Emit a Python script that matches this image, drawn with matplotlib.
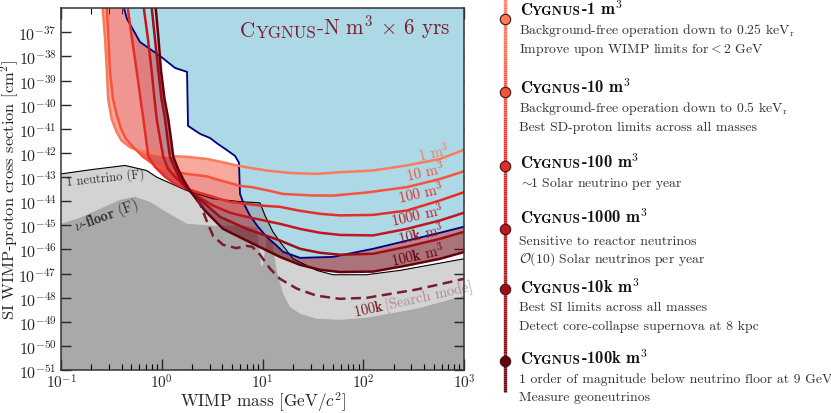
import numpy as np
import matplotlib
matplotlib.use("Agg")
import matplotlib.pyplot as plt
from matplotlib.collections import LineCollection
from matplotlib.patches import Polygon
from matplotlib.ticker import FixedLocator, FuncFormatter, LogLocator, NullLocator, NullFormatter

plt.rcParams['font.family'] = ['cmr10', 'DejaVu Serif']
plt.rcParams['mathtext.fontset'] = 'cm'
plt.rcParams['axes.formatter.use_mathtext'] = True
plt.rcParams['axes.unicode_minus'] = False

# --- data: WIMP mass [GeV], cross section as log10(sigma / cm^2) ---
m_1m3 = [0.258, 0.274, 0.285, 0.294, 0.318, 0.357, 0.400, 0.484, 0.585, 0.857, 1.256, 1.77,
         2.79, 3.87, 5.54, 7.51, 11.0, 18.7, 34.5, 58.8, 125, 270, 578, 1000]
ls_1m3 = [-35.9, -37.28, -38.60, -39.76, -40.59, -41.13, -41.49, -41.76, -41.90, -42.04, -42.135, -42.16,
          -42.25, -42.37, -42.52, -42.62, -42.73, -42.83, -42.87, -42.80, -42.73, -42.52, -42.25, -41.87]

m_10m3 = [0.284, 0.296, 0.306, 0.328, 0.360, 0.394, 0.441, 0.519, 0.652, 0.857, 1.207, 1.77,
          2.79, 3.96, 5.98, 7.87, 10.6, 16.0, 29.6, 50.1, 109, 270, 578, 1000]
ls_10m3 = [-35.9, -37.28, -38.60, -39.76, -40.47, -41.00, -41.42, -41.75, -42.16, -42.52, -42.74, -42.87,
           -42.97, -43.16, -43.365, -43.42, -43.53, -43.70, -43.76, -43.77, -43.64, -43.42, -43.08, -42.76]

m_100m3 = [0.457, 0.507, 0.564, 0.615, 0.656, 0.698, 0.736, 0.857, 1.077, 1.354, 1.782, 2.40,
           3.23, 4.75, 9.44, 14.9, 23.6, 37.2, 58.8, 125, 270, 578, 1000]
ls_100m3 = [-35.9, -37.28, -38.60, -39.76, -40.59, -41.42, -42.16, -42.58, -42.99, -43.28, -43.49, -43.66,
            -43.82, -44.03, -44.18, -44.235, -44.40, -44.525, -44.59, -44.57, -44.39, -43.97, -43.63]

m_1000m3 = [0.659, 0.730, 0.794, 0.847, 0.891, 0.962, 1.036, 1.153, 1.354, 1.782, 2.40, 3.23,
            4.75, 6.97, 14.9, 23.6, 37.2, 58.8, 125, 270, 578, 1000]
ls_1000m3 = [-35.9, -37.28, -38.60, -39.76, -40.59, -41.42, -42.16, -42.66, -42.99, -43.49, -43.86, -44.18,
             -44.48, -44.65, -44.94, -45.15, -45.31, -45.40, -45.42, -45.15, -44.80, -44.48]

m_10k = [0.791, 0.857, 0.925, 0.994, 1.077, 1.140, 1.207, 1.354, 1.518, 1.782, 2.69, 3.79,
         6.97, 14.9, 23.6, 37.2, 58.8, 125, 270, 578, 1000]
ls_10k = [-35.9, -37.28, -38.60, -39.76, -40.59, -41.42, -42.16, -42.66, -43.08, -43.49, -44.11, -44.65,
          -45.15, -45.63, -45.975, -46.14, -46.22, -46.18, -45.89, -45.56, -45.27]

m_100k = [0.867, 0.929, 0.984, 1.065, 1.161, 1.236, 1.302, 1.449, 1.626, 1.907, 2.69, 4.06,
          8.76, 14.9, 23.6, 37.2, 58.8, 125, 270, 578, 1000]
ls_100k = [-35.9, -37.28, -38.60, -39.76, -40.59, -41.42, -42.16, -42.66, -43.08, -43.57, -44.40, -45.15,
           -45.84, -46.31, -46.64, -46.845, -46.94, -46.92, -46.67, -46.39, -46.11]

m_search = [2.24, 2.40, 2.79, 3.23, 4.06, 5.54, 6.86, 7.87, 9.02, 10.1, 11.9, 14.9, 22.0, 34.5, 58.8, 109, 341, 1000]
ls_search = [-43.90, -44.11, -44.815, -45.44, -45.81, -45.95, -45.85, -45.89, -46.10, -46.39, -46.80, -47.22,
             -47.63, -47.92, -48.05, -48.005, -47.66, -47.22]

# current limits
m_limit = [0.417, 0.452, 0.504, 0.608, 0.764, 0.962, 1.354, 1.782, 1.823, 2.40, 3.01, 3.61, 4.25, 5.33,
           5.84, 5.98, 6.40, 7.51, 9.02, 11.0, 13.8, 16.0, 23.6, 50.1, 125, 270, 578, 1000]
ls_limit = [-35.9, -36.447, -36.79, -37.40, -37.69, -37.98, -38.477, -38.64, -40.88, -41.21, -41.38, -41.63,
            -41.83, -42.12, -42.41, -43.70, -44.03, -44.60, -45.06, -45.48, -45.84, -46.10, -46.35, -46.31,
            -45.975, -45.64, -45.31, -45.06]

# 1 neutrino (F) and neutrino floor (F)
m_nu1 = [0.1, 0.194, 0.432, 0.709, 0.891, 1.77, 3.23, 5.98, 9.44, 10.6, 12.7, 14.9, 20.1, 34.5, 50.1, 108, 232, 1000]
ls_nu1 = [-42.87, -42.70, -42.52, -42.73, -43.005, -43.56, -43.90, -44.02, -44.07, -44.60, -45.27, -45.685,
          -46.39, -46.87, -47.05, -47.05, -46.87, -46.39]

m_floor = [0.1, 0.154, 0.244, 0.386, 0.543, 0.764, 1.10, 1.782, 3.38, 6.70, 8.82, 9.23, 9.66, 10.1, 10.6,
           11.1, 12.4, 13.0, 13.9, 16.0, 18.7, 23.6, 34.5, 58.8, 109, 341, 1000]
ls_floor = [-44.94, -44.69, -44.32, -43.945, -43.82, -44.03, -44.44, -44.94, -45.02, -45.02, -45.105, -45.89,
            -46.64, -46.68, -45.975, -45.56, -45.56, -46.18, -46.92, -47.84, -48.38, -48.67, -48.875, -48.92,
            -48.83, -48.46, -47.92]

stages = ['1', '10', '100', '1000', '10k', '100k']
curves_m = [m_1m3, m_10m3, m_100m3, m_1000m3, m_10k, m_100k]
curves_ls = [ls_1m3, ls_10m3, ls_100m3, ls_1000m3, ls_10k, ls_100k]

notes = [
    ["Background-free operation down to 0.25 keV$_\\mathrm{r}$", "Improve upon WIMP limits for$<$2 GeV"],
    ["Background-free operation down to 0.5 keV$_\\mathrm{r}$", "Best SD-proton limits across all masses"],
    ["$\\sim\\!\\!$1 Solar neutrino per year"],
    ["Sensitive to reactor neutrinos", "$\\mathcal{O}$(10) Solar neutrinos per year"],
    ["Best SI limits across all masses", "Detect core-collapse supernova at 8 kpc"],
    ["1 order of magnitude below neutrino floor at 9 GeV", "Measure geoneutrinos"],
]

cmap = plt.get_cmap('Reds')
cols = [cmap(v) for v in (0.45, 0.56, 0.67, 0.77, 0.88, 1.0)]
band_cols = [cols[1], cols[2], cols[3], '#7f1020', '#67000d']
band_alpha = [0.5, 0.5, 0.55, 0.5, 0.55]
text_col = '#262626'
title_col = '#7a1c33'


def sig(ls):
    return 10.0 ** np.asarray(ls)


def poly(m, ls, extra):
    return list(zip(m, sig(ls))) + extra


fig = plt.figure(figsize=(8.31, 4.14), dpi=100)
ax = fig.add_axes([61 / 831, 1 - 371 / 414, 403 / 831, 361.8 / 414])
ax.set_xscale('log')
ax.set_yscale('log')
ax.set_xlim(0.1, 1000)
ax.set_ylim(1e-51, 1e-36)

# neutrino floor regions
bottom = [(1000, 1e-52), (0.1, 1e-52)]
ax.add_patch(Polygon(poly(m_nu1, ls_nu1, bottom), closed=True, fc='#d3d3d3', ec='none', zorder=1))
ax.add_patch(Polygon(poly(m_floor, ls_floor, bottom), closed=True, fc='#a9a9a9', ec='none', zorder=1.2))

# bands between successive detector sizes
for i in range(len(stages) - 1):
    mA, lA = curves_m[i], curves_ls[i]
    mB, lB = curves_m[i + 1], curves_ls[i + 1]
    verts = list(zip(mA, sig(lA))) + list(zip(mB[::-1], sig(lB[::-1])))
    ax.add_patch(Polygon(verts, closed=True, fc=band_cols[i], ec='none', alpha=band_alpha[i], zorder=2))

# existing limits
blue = Polygon(poly(m_limit, ls_limit, [(1000, 10 ** -35.9)]), closed=True, fc='#add8e6', ec='none', zorder=3)
ax.add_patch(blue)
shade = Polygon(poly(m_nu1, ls_nu1, bottom), closed=True, fc='#808080', ec='none', alpha=0.4, zorder=3.2)
ax.add_patch(shade)
shade.set_clip_path(blue)
ax.plot(m_limit, sig(ls_limit), color='#000080', lw=1.3, zorder=4.5)
ax.plot(m_nu1, sig(ls_nu1), color='k', lw=0.8, zorder=4)

for i in range(len(stages)):
    ax.plot(curves_m[i], sig(curves_ls[i]), color=cols[i], lw=1.8, zorder=5)
ax.plot(m_search, sig(ls_search), color='#7a1c2c', lw=1.8, ls=(0, (4, 2.2)), zorder=5)

# curve labels
lab_m = [726, 647, 647, 647, 647, 647]
lab_ls = [-42.04, -42.80, -43.65, -44.52, -45.33, -46.16]
for i, s in enumerate(stages):
    ax.text(lab_m[i], 10 ** lab_ls[i], r"$\mathbf{%s}$ m$^3$" % s, color=cols[i], fontsize=10.5,
            ha='right', va='baseline', rotation=13, rotation_mode='anchor', zorder=6)

ax.text(0.1147, 10 ** -43.32, "1 neutrino (F)", fontsize=9, color='#333333', rotation=6,
        rotation_mode='anchor', ha='left', va='baseline', zorder=6)
ax.text(0.141, 10 ** -45.23, r"$\nu$-$\mathbf{floor}$ (F)", fontsize=10.5, color='#333333', rotation=20,
        rotation_mode='anchor', ha='left', va='baseline', zorder=6)

# "100k [Search mode]" in two colours along a rotated baseline
rot = 12.6
t1 = ax.text(82.8, 10 ** -48.75, r"$\mathbf{100k}$ ", fontsize=10.5, color='#7a1c2c', rotation=rot,
             rotation_mode='anchor', ha='left', va='baseline', zorder=6)
r = fig.canvas.get_renderer()
t1.set_rotation(0)
w = t1.get_window_extent(r).width * 72 / fig.dpi
t1.set_rotation(rot)
ax.annotate("[Search mode]", xy=(82.8, 10 ** -48.75), xytext=(w * np.cos(np.radians(rot)), w * np.sin(np.radians(rot))),
            textcoords='offset points', fontsize=10.5, color='#b08a96', rotation=rot, rotation_mode='anchor',
            ha='left', va='baseline', zorder=6)

# axes styling
ax.yaxis.set_major_locator(FixedLocator([10.0 ** k for k in range(-51, -36)]))
ax.yaxis.set_minor_locator(NullLocator())
ax.yaxis.set_major_formatter(FuncFormatter(lambda v, p: r"$10^{%d}$" % round(np.log10(v))))
ax.xaxis.set_major_locator(FixedLocator([0.1, 1, 10, 100, 1000]))
ax.xaxis.set_minor_locator(LogLocator(base=10, subs=np.arange(2, 10)))
ax.xaxis.set_minor_formatter(NullFormatter())
ax.xaxis.set_major_formatter(FuncFormatter(lambda v, p: r"$10^{%d}$" % round(np.log10(v))))
ax.tick_params(axis='x', which='major', direction='in', length=8, width=1, top=True, labelsize=11,
               colors=text_col, pad=1.5)
ax.tick_params(axis='x', which='minor', direction='in', length=4, width=0.8, top=True)
ax.tick_params(axis='y', which='major', direction='in', length=7, width=1, right=True, labelsize=11.5,
               colors=text_col, pad=3)
for sp in ax.spines.values():
    sp.set_linewidth(1.1)
    sp.set_color('#333333')
    sp.set_zorder(10)
ax.set_xlabel(r"WIMP mass [GeV$/c^2$]", fontsize=12.3, color=text_col)
ax.set_ylabel(r"SI WIMP-proton cross section [cm$^2$]", fontsize=11.8, color=text_col)
ax.xaxis.set_label_coords(0.5, -0.053)
ax.yaxis.set_label_coords(-0.100, 0.5)

# overlay for title and the timeline (pixel coordinates)
ov = fig.add_axes([0, 0, 1, 1])
ov.set_xlim(0, 831)
ov.set_ylim(414, 0)
ov.axis('off')


def small_caps(x, y, parts, family, color, zorder=7):
    t = ov.text(x, y, parts[0][0], fontsize=parts[0][1], family=family, color=color,
                ha='left', va='baseline', zorder=zorder)
    for s, fs in parts[1:]:
        t = ov.annotate(s, xy=(1, 0), xycoords=t, fontsize=fs, family=family, color=color,
                        ha='left', va='bottom', zorder=zorder)
    return t


small_caps(240, 37, [("C", 15.2), ("YGNUS", 12.2), (r"-N m$^3$ $\times$ 6 yrs", 15.2)],
           ['cmr10', 'DejaVu Serif'], title_col)

# timeline
ys = np.linspace(0, 393, 200)
segs = [[(505, ys[k]), (505, ys[k + 1])] for k in range(len(ys) - 1)]
lc = LineCollection(segs, colors=cmap(np.linspace(0.42, 1.0, len(segs))), linewidths=2.4, zorder=2)
ov.add_collection(lc)

dot_y = [20, 92.7, 166.7, 230, 290, 362]
head_y = [15, 93, 168, 223, 293, 364]
body_y = [[34, 53], [112, 131], [187], [245, 263], [311, 330], [383, 401]]
for i, s in enumerate(stages):
    ov.plot(505, dot_y[i], 'o', ms=7.5, mfc=cols[i], mec='#3a1515', mew=0.8, zorder=3)
    small_caps(520, head_y[i], [("C", 12), ("YGNUS", 9.6), (r"-%s m$^\mathbf{3}$" % s, 12)],
               ['cmb10', 'DejaVu Serif'], '#111111')
    for line, yb in zip(notes[i], body_y[i]):
        ov.text(519, yb, line, fontsize=9.9, color='#333333', ha='left', va='baseline')

fig.savefig('out.png', dpi=100, facecolor='white')
